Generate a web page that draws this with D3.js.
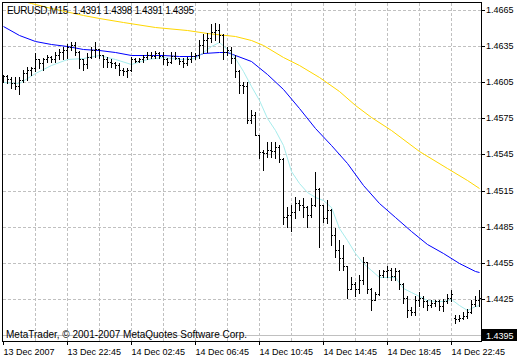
<!DOCTYPE html>
<html><head><meta charset="utf-8">
<script src="https://cdn.jsdelivr.net/npm/d3@7"></script>
<style>
html,body{margin:0;padding:0;background:#fff;}
svg{display:block;}
text{font-family:"Liberation Sans",Arial,sans-serif;font-size:9px;fill:#000;}
</style></head><body>
<svg id="c" width="520" height="360"></svg>
<script>
// ---- data ----
const symbol = "EURUSD,M15";
const titleOHLC = [1.4391, 1.4398, 1.4391, 1.4395];
const lastPrice = 1.4395;
const copyright = "MetaTrader, \u00A9 2001-2007 MetaQuotes Software Corp.";

const open = [
1.4609,1.4610,1.4608,1.4604,1.4602,1.4607,1.4613,1.4615,1.4617,1.4624,
1.4621,1.4624,1.4626,1.4624,1.4628,1.4630,1.4632,1.4634,1.4636,1.4630,
1.4624,1.4620,1.4626,1.4632,1.4633,1.4628,1.4624,1.4622,1.4621,1.4619,
1.4615,1.4614,1.4615,1.4624,1.4623,1.4624,1.4626,1.4628,1.4627,1.4629,
1.4627,1.4624,1.4622,1.4627,1.4625,1.4623,1.4621,1.4624,1.4627,1.4628,
1.4636,1.4640,1.4642,1.4647,1.4648,1.4644,1.4630,1.4632,1.4625,1.4614,
1.4603,1.4602,1.4574,1.4578,1.4561,1.4547,1.4546,1.4549,1.4548,1.4551,
1.4541,1.4493,1.4495,1.4497,1.4505,1.4503,1.4501,1.4495,1.4503,1.4516,
1.4503,1.4492,1.4499,1.4478,1.4466,1.4459,1.4452,1.4433,1.4437,1.4433,
1.4441,1.4456,1.4433,1.4424,1.4429,1.4445,1.4448,1.4449,1.4444,1.4448,
1.4437,1.4426,1.4416,1.4414,1.4424,1.4426,1.4423,1.4420,1.4422,1.4423,
1.4419,1.4423,1.4426,1.4409,1.4408,1.4409,1.4411,1.4414,1.4421,1.4424];
const high = [
1.4611,1.4611,1.4609,1.4609,1.4609,1.4615,1.4618,1.4618,1.4629,1.4624,
1.4625,1.4628,1.4627,1.4630,1.4633,1.4634,1.4637,1.4638,1.4638,1.4631,
1.4624,1.4629,1.4634,1.4638,1.4633,1.4628,1.4626,1.4624,1.4622,1.4621,
1.4617,1.4617,1.4626,1.4625,1.4625,1.4628,1.4630,1.4630,1.4631,1.4630,
1.4630,1.4625,1.4630,1.4630,1.4625,1.4625,1.4626,1.4630,1.4629,1.4640,
1.4645,1.4646,1.4653,1.4654,1.4653,1.4645,1.4634,1.4634,1.4628,1.4615,
1.4605,1.4605,1.4582,1.4580,1.4561,1.4549,1.4555,1.4555,1.4555,1.4553,
1.4542,1.4501,1.4503,1.4510,1.4507,1.4509,1.4502,1.4509,1.4530,1.4517,
1.4503,1.4507,1.4500,1.4484,1.4474,1.4470,1.4452,1.4443,1.4439,1.4445,
1.4460,1.4456,1.4434,1.4431,1.4449,1.4449,1.4452,1.4451,1.4451,1.4449,
1.4438,1.4427,1.4418,1.4427,1.4431,1.4427,1.4424,1.4424,1.4424,1.4424,
1.4425,1.4429,1.4432,1.4412,1.4412,1.4414,1.4417,1.4424,1.4427,1.4432];
const low = [
1.4605,1.4604,1.4600,1.4599,1.4595,1.4605,1.4607,1.4611,1.4614,1.4617,
1.4615,1.4622,1.4622,1.4622,1.4624,1.4624,1.4625,1.4632,1.4628,1.4617,
1.4615,1.4617,1.4625,1.4626,1.4625,1.4618,1.4618,1.4618,1.4617,1.4611,
1.4611,1.4609,1.4614,1.4622,1.4622,1.4622,1.4624,1.4625,1.4625,1.4625,
1.4620,1.4619,1.4621,1.4624,1.4620,1.4618,1.4619,1.4622,1.4624,1.4625,
1.4629,1.4630,1.4638,1.4640,1.4638,1.4624,1.4628,1.4621,1.4609,1.4596,
1.4596,1.4571,1.4571,1.4561,1.4542,1.4532,1.4543,1.4543,1.4542,1.4539,
1.4487,1.4485,1.4481,1.4492,1.4499,1.4493,1.4485,1.4493,1.4502,1.4468,
1.4489,1.4488,1.4470,1.4460,1.4449,1.4449,1.4426,1.4433,1.4427,1.4430,
1.4437,1.4430,1.4416,1.4424,1.4428,1.4443,1.4443,1.4441,1.4441,1.4433,
1.4422,1.4410,1.4412,1.4412,1.4419,1.4418,1.4416,1.4418,1.4419,1.4416,
1.4415,1.4422,1.4423,1.4405,1.4407,1.4408,1.4409,1.4413,1.4419,1.4419];
const close = [
1.4610,1.4608,1.4604,1.4602,1.4607,1.4613,1.4615,1.4617,1.4624,1.4621,
1.4624,1.4626,1.4624,1.4628,1.4630,1.4632,1.4634,1.4636,1.4630,1.4624,
1.4620,1.4626,1.4632,1.4633,1.4628,1.4624,1.4622,1.4621,1.4619,1.4615,
1.4614,1.4615,1.4624,1.4623,1.4624,1.4626,1.4628,1.4627,1.4629,1.4627,
1.4624,1.4622,1.4627,1.4625,1.4623,1.4621,1.4624,1.4627,1.4628,1.4636,
1.4640,1.4642,1.4647,1.4648,1.4644,1.4630,1.4632,1.4625,1.4614,1.4603,
1.4602,1.4574,1.4578,1.4561,1.4547,1.4546,1.4549,1.4548,1.4551,1.4541,
1.4493,1.4495,1.4497,1.4505,1.4503,1.4501,1.4495,1.4503,1.4516,1.4503,
1.4492,1.4499,1.4478,1.4466,1.4459,1.4452,1.4433,1.4437,1.4433,1.4441,
1.4456,1.4433,1.4424,1.4429,1.4445,1.4448,1.4449,1.4444,1.4448,1.4437,
1.4426,1.4416,1.4414,1.4424,1.4426,1.4423,1.4420,1.4422,1.4423,1.4419,
1.4423,1.4426,1.4429,1.4408,1.4409,1.4411,1.4414,1.4421,1.4424,1.4426];

// moving averages (bar index, price)
const fastIdx = [0,4,8,12,16,20,24,28,32,36,40,44,48,50,52,54,56,58,60,62,64,66,68,70,72,74,76,78,80,82,84,86,88,90,92,94,96,98,100,102,104,106,108,110,112,114,116,118,119];
const fastMA  = [1.4605,1.4604,1.4613,1.4619,1.4624,1.4625,1.4628,1.4624,1.4620,1.4624,1.4626,1.4624,1.4625,1.4630,1.4635,1.4638,1.4633,1.4625,1.4614,1.4602,1.4590,1.4575,1.4565,1.4553,1.4531,1.4521,1.4514,1.4510,1.4507,1.4501,1.4484,1.4474,1.4463,1.4455,1.4449,1.4443,1.4443,1.4443,1.4434,1.4431,1.4427,1.4424,1.4423,1.4423,1.4425,1.4420,1.4416,1.4419,1.4420];
const midIdx = [0,4,8,12,16,20,24,28,32,36,40,44,48,50,54,56,58,62,66,70,74,78,82,86,90,94,98,102,106,110,114,118,119];
const midMA  = [1.4652,1.4644,1.4639,1.4637,1.4635,1.4633,1.4632,1.4630,1.4628,1.4628,1.4628,1.4627,1.4627,1.4629,1.4630,1.4630,1.4628,1.4623,1.4612,1.4599,1.4584,1.4567,1.4553,1.4538,1.4520,1.4505,1.4493,1.4481,1.4471,1.4463,1.4455,1.4448,1.4447];
const slowIdx = [0,7,12,20,24,30,38,46,51,58,62,65,70,74,79,84,88,92,97,104,111,116,119];
const slowMA  = [1.4677,1.4671,1.4667,1.4661,1.4658,1.4655,1.4651,1.4648,1.4646,1.4643,1.4640,1.4636,1.4626,1.4619,1.4609,1.4598,1.4586,1.4576,1.4565,1.4548,1.4534,1.4524,1.4517];

const priceTicks = [1.4665,1.4635,1.4605,1.4575,1.4545,1.4515,1.4485,1.4455,1.4425];
const timeTickIdx = [0,16,32,48,64,80,96,112];
const timeLabels = ["13 Dec 2007","13 Dec 22:45","14 Dec 02:45","14 Dec 06:45","14 Dec 10:45","14 Dec 14:45","14 Dec 18:45","14 Dec 22:45"];
const gridIdx = [8,16,24,32,40,48,56,64,72,80,88,96,104,112];

// ---- drawing ----
const svg = d3.select("#c");
const L = 2, T = 2, R = 481, B = 341;
const n = open.length;
const x = d3.scaleLinear().domain([0, n - 1]).range([3, 479]);
const y = d3.scaleLinear().domain([1.4395, 1.4665]).range([335, 10]).interpolate(d3.interpolateRound);

svg.append("rect").attr("width", 520).attr("height", 360).attr("fill", "#fff");
svg.append("defs").append("clipPath").attr("id", "clip")
  .append("rect").attr("x", L + 1).attr("y", T + 1).attr("width", R - L - 1).attr("height", B - T - 1);

const grid = svg.append("g").attr("stroke", "#c0c0c0").attr("stroke-dasharray", "3,2").attr("shape-rendering", "crispEdges");
grid.selectAll("line.v").data(gridIdx).join("line").attr("class", "v")
  .attr("x1", d => x(d) + 0.5).attr("x2", d => x(d) + 0.5).attr("y1", T + 1).attr("y2", B);
grid.selectAll("line.h").data(priceTicks).join("line").attr("class", "h")
  .attr("x1", L + 1).attr("x2", R).attr("y1", d => y(d) + 0.5).attr("y2", d => y(d) + 0.5);

// bid line
svg.append("line").attr("x1", L + 1).attr("x2", R).attr("y1", y(lastPrice) + 0.5).attr("y2", y(lastPrice) + 0.5)
  .attr("stroke", "#c0c0c0").attr("shape-rendering", "crispEdges");

const plot = svg.append("g").attr("clip-path", "url(#clip)");
function maLine(idx, vals, color) {
  const pts = idx.map((d, i) => [d, vals[i]]);
  plot.append("path").datum(pts)
    .attr("d", d3.line().x(d => x(d[0]) + 0.5).y(d => y(d[1]) + 0.5))
    .attr("fill", "none").attr("stroke", color).attr("stroke-width", 1);
}
maLine(slowIdx, slowMA, "#ffd700");
maLine(midIdx, midMA, "#0000ff");
maLine(fastIdx, fastMA, "#a6ecec");

const bars = plot.append("g").attr("fill", "#000").attr("shape-rendering", "crispEdges");
const idx = d3.range(n);
bars.selectAll("rect.hl").data(idx).join("rect").attr("class", "hl")
  .attr("x", i => x(i)).attr("y", i => y(high[i]))
  .attr("width", 1).attr("height", i => y(low[i]) - y(high[i]) + 1);
bars.selectAll("rect.o").data(idx).join("rect").attr("class", "o")
  .attr("x", i => x(i) - 1).attr("y", i => y(open[i])).attr("width", 1).attr("height", 1);
bars.selectAll("rect.c").data(idx).join("rect").attr("class", "c")
  .attr("x", i => x(i) + 1).attr("y", i => y(close[i])).attr("width", 1).attr("height", 1);

// frame
svg.append("rect").attr("x", L + 0.5).attr("y", T + 0.5).attr("width", R - L).attr("height", B - T)
  .attr("fill", "none").attr("stroke", "#000");

// right axis
const ya = svg.append("g").attr("transform", `translate(${R},0)`)
  .call(d3.axisRight(y).tickValues(priceTicks).tickSize(4).tickPadding(1).tickFormat(d3.format(".4f")));
ya.select(".domain").remove();
ya.selectAll("text").attr("font-family", null).attr("font-size", null).attr("dy", "0.33em");

// bottom axis
const xa = svg.append("g").attr("transform", `translate(0,${B})`)
  .call(d3.axisBottom(x).tickValues(timeTickIdx).tickSize(4).tickFormat((d, i) => timeLabels[i]));
xa.select(".domain").remove();
xa.selectAll("text").attr("font-family", null).attr("font-size", null).attr("text-anchor", "start").attr("x", 0).attr("y", 14).attr("dy", 0);

// title
svg.append("text").attr("x", 7).attr("y", 14).style("font-size", "10px")
  .attr("textLength", 187).attr("lengthAdjust", "spacing")
  .text(symbol + "\u00A0\u00A0" + titleOHLC.map(d => d.toFixed(4)).join(" "));

// copyright
svg.append("text").attr("x", 6).attr("y", 338).style("font-size", "10px")
  .attr("textLength", 241).attr("lengthAdjust", "spacing").text(copyright);

// current price label
svg.append("rect").attr("x", R + 1).attr("y", y(lastPrice) - 6).attr("width", 35).attr("height", 12).attr("fill", "#000");
svg.append("text").attr("x", R + 5).attr("y", y(lastPrice) + 3.5).style("fill", "#fff").text(lastPrice.toFixed(4));
</script>
</body></html>
